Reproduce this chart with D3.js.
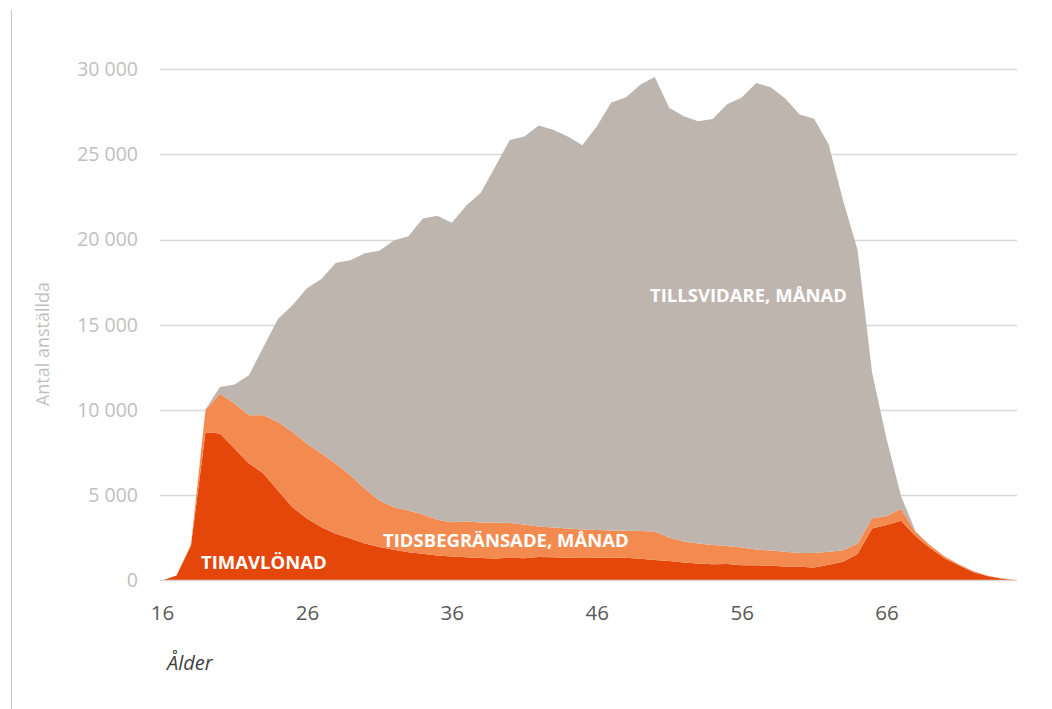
<!DOCTYPE html>
<html>
<head>
<meta charset="utf-8">
<script src="https://cdn.jsdelivr.net/npm/d3@7/dist/d3.min.js"></script>
<style>
  html, body { margin: 0; padding: 0; background: #fff; }
  svg { display: block; }
</style>
</head>
<body>
<svg id="chart" width="1052" height="709"></svg>
<script>
// ---- Data ----
const ages = d3.range(16, 76); // 16..75
const timavlonad = [
  0,300,2050,8700,8630,7750,6870,6280,5280,4300,
  3640,3130,2750,2470,2170,1960,1800,1660,1570,1470,
  1410,1370,1320,1290,1330,1300,1380,1370,1330,1320,
  1340,1350,1330,1280,1200,1150,1050,1000,950,970,
  900,890,870,820,800,760,930,1100,1550,3050,
  3250,3500,2600,1900,1310,880,490,250,100,20
];
const tidsbegransade = [
  0,0,50,1300,2330,2640,2830,3420,4020,4410,
  4390,4320,4100,3700,3210,2740,2500,2450,2310,2090,
  2010,2090,2080,2110,2050,1990,1790,1740,1720,1680,
  1630,1590,1610,1620,1680,1370,1240,1170,1130,1060,
  1040,930,890,870,820,850,750,680,600,600,
  530,710,240,150,100,60,60,30,20,10
];
const tillsvidare = [
  0,0,0,50,390,1110,2350,4000,6050,7440,
  9120,10250,11800,12630,13820,14650,15650,16090,17370,17840,
  17580,18540,19350,20900,22470,22760,23530,23340,23000,22550,
  23680,25110,25410,26200,26670,25230,24960,24780,25000,25920,
  26410,27380,27190,26610,25730,25490,23920,20520,17250,8550,
  4520,740,50,30,20,10,10,5,5,0
];
const seriesKeys = ["timavlonad", "tidsbegransade", "tillsvidare"];
const seriesLabels = ["TIMAVLÖNAD", "TIDSBEGRÄNSADE, MÅNAD", "TILLSVIDARE, MÅNAD"];
const yTicks = [0, 5000, 10000, 15000, 20000, 25000, 30000];
const xTicks = [16, 26, 36, 46, 56, 66];
const yTitle = "Antal anställda";
const xTitle = "Ålder";

// ---- Build table ----
const table = ages.map((a, i) => ({
  age: a,
  timavlonad: timavlonad[i],
  tidsbegransade: tidsbegransade[i],
  tillsvidare: tillsvidare[i]
}));

const colors = { timavlonad: "#E5470B", tidsbegransade: "#F38A4F", tillsvidare: "#BEB5AF" };

const svg = d3.select("#chart");
const x = d3.scaleLinear().domain([16, 75]).range([162, 1017]);
const y = d3.scaleLinear().domain([0, 30000]).range([580.5, 69.3]);

// outer border line on the left
svg.append("line").attr("x1", 11.5).attr("x2", 11.5).attr("y1", 10).attr("y2", 709)
  .attr("stroke", "#C8C8C8").attr("stroke-width", 1);

// gridlines
svg.append("g").selectAll("line").data(yTicks.filter(d => d > 0)).join("line")
  .attr("x1", 160).attr("x2", 1017)
  .attr("y1", d => Math.round(y(d)) + 0.5).attr("y2", d => Math.round(y(d)) + 0.5)
  .attr("stroke", "#D9D9D9").attr("stroke-width", 1.3);

// stacked areas
const stack = d3.stack().keys(seriesKeys);
const layers = stack(table);
const area = d3.area()
  .x(d => x(d.data.age))
  .y0(d => y(d[0]))
  .y1(d => y(d[1]))
  .curve(d3.curveLinear);

svg.append("g").selectAll("path").data(layers).join("path")
  .attr("d", area)
  .attr("fill", d => colors[d.key]);

// baseline
svg.append("line").attr("x1", 160).attr("x2", 1017)
  .attr("y1", 580.5).attr("y2", 580.5)
  .attr("stroke", "#D9D9D9").attr("stroke-width", 1.3);

// y axis labels
const fmt = v => v === 0 ? "0" : d3.format(",")(v).replace(/,/g, " ");
const yAxis = d3.axisLeft(y).tickValues(yTicks).tickFormat(fmt).tickSize(0).tickPadding(0);
const gy = svg.append("g").attr("transform", "translate(138,0)").call(yAxis);
gy.select(".domain").remove();
gy.selectAll("text")
  .attr("fill", "#BFBFBF")
  .style("font-family", "'Open Sans', sans-serif")
  .style("font-size", "19.5px");

// x axis labels
const xAxis = d3.axisBottom(x).tickValues(xTicks).tickFormat(d3.format("d")).tickSize(0).tickPadding(0);
const gx = svg.append("g").attr("transform", "translate(0,605.5)").call(xAxis);
gx.select(".domain").remove();
gx.selectAll("text")
  .attr("fill", "#595959")
  .style("font-family", "'Open Sans', sans-serif")
  .style("font-size", "20.5px");

// axis titles
svg.append("text")
  .attr("transform", "translate(49,344) rotate(-90)")
  .attr("text-anchor", "middle")
  .attr("fill", "#BFBFBF")
  .style("font-family", "'Open Sans', sans-serif")
  .style("font-size", "18px")
  .text(yTitle);

svg.append("text")
  .attr("x", 167).attr("y", 670)
  .attr("fill", "#404040")
  .style("font-family", "'Open Sans', sans-serif")
  .style("font-size", "20px")
  .style("font-style", "italic")
  .text(xTitle);

// series labels inside areas
const labelPos = [
  { x: 201, y: 568.5 },
  { x: 383, y: 546.5 },
  { x: 650, y: 301.5 }
];
svg.append("g").selectAll("text").data(seriesLabels).join("text")
  .attr("x", (d, i) => labelPos[i].x)
  .attr("y", (d, i) => labelPos[i].y)
  .attr("fill", "#FFFFFF")
  .style("font-family", "'Open Sans', sans-serif")
  .style("font-size", "18.5px")
  .style("font-weight", "bold")
  .text(d => d);
</script>
</body>
</html>
